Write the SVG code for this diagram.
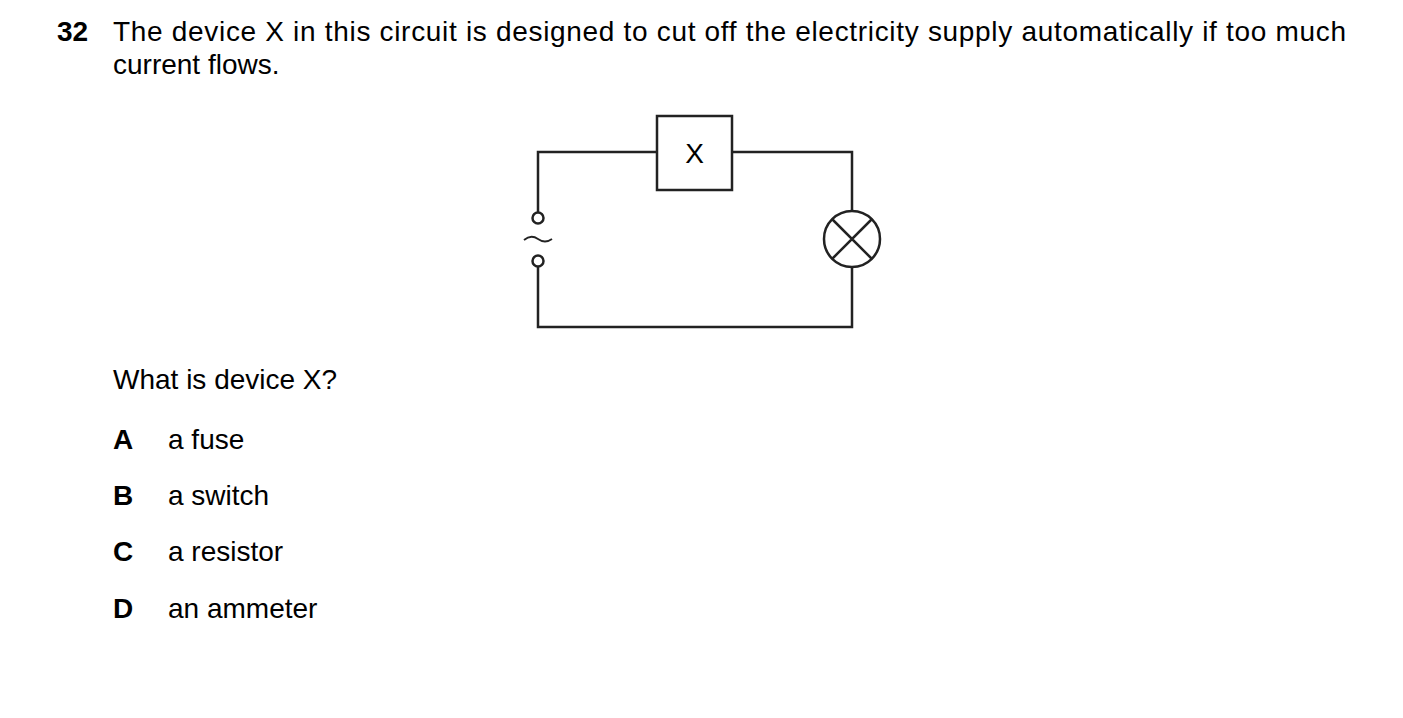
<svg xmlns="http://www.w3.org/2000/svg" width="1403" height="718" viewBox="0 0 1403 718">
<style>
text{font-family:"Liberation Sans",Arial,sans-serif;font-size:28px;fill:#000}
.b{font-weight:bold}
.w{fill:none;stroke:#222;stroke-width:2.5}
</style>
<rect width="1403" height="718" fill="#fff"/>
<text class="b" x="57" y="41">32</text>
<text x="113" y="41" textLength="1233" lengthAdjust="spacing">The device X in this circuit is designed to cut off the electricity supply automatically if too much</text>
<text x="113" y="74">current flows.</text>
<g id="connectors">
<path class="w" d="M538 212V152H657M732 152H852V211M852 267V327H538V267"/>
</g>
<g id="deviceX"><rect class="w" x="657" y="116" width="75" height="74"/><text x="694.5" y="163" text-anchor="middle">X</text></g>
<g id="lamp"><circle class="w" cx="852" cy="239" r="28"/><path class="w" d="M832 219L872 259M872 219L832 259"/></g>
<g id="supply"><circle class="w" cx="538" cy="218" r="5.5"/><circle class="w" cx="538" cy="261" r="5.5"/><path fill="none" stroke="#222" stroke-width="1.8" d="M524 240Q531 234 538 239T552 239"/></g>
<text x="113" y="389">What is device X?</text>
<text class="b" x="113" y="449">A</text><text x="168" y="449">a fuse</text>
<text class="b" x="113" y="505">B</text><text x="168" y="505">a switch</text>
<text class="b" x="113" y="561">C</text><text x="168" y="561">a resistor</text>
<text class="b" x="113" y="618">D</text><text x="168" y="618">an ammeter</text>
</svg>
